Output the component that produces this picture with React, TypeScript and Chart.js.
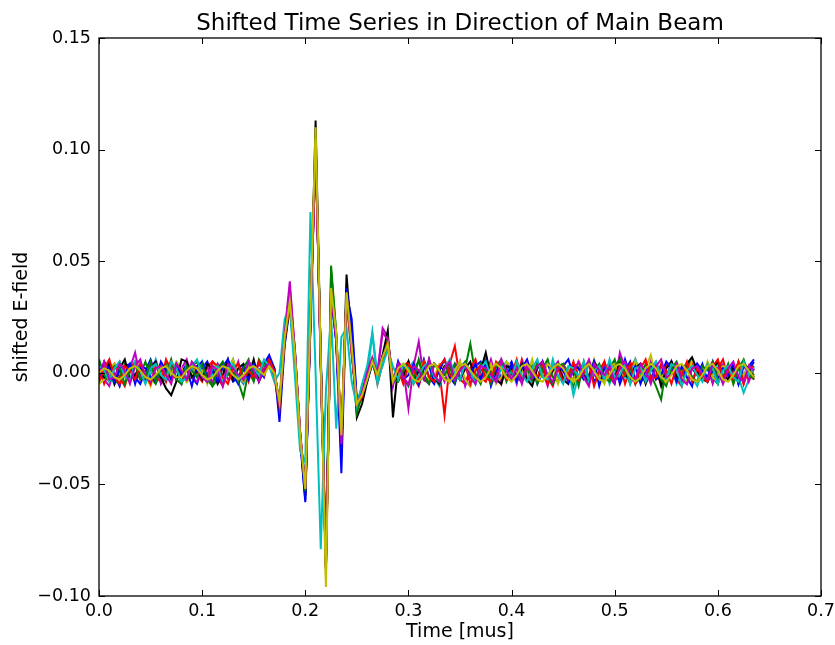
import React, { useEffect, useRef } from 'react';
import { Chart, registerables } from 'chart.js';

Chart.register(...registerables);

// Sampling of the time axis (mus) and unit of the stored values (E-field x 1e-3)
const SAMPLE_STEP = 0.005;
const VALUE_UNIT = 0.001;

const chartTitle = 'Shifted Time Series in Direction of Main Beam';
const xAxisLabel = 'Time [mus]';
const yAxisLabel = 'shifted E-field';

const xTickStep = 0.1;
const yTickStep = 0.05;
const xRange = [0, 0.7];
const yRange = [-0.1, 0.15];

// Series values (x 1e-3), one sample every 0.005 mus from 0.000 to 0.635
const blue1 = [2,-3,5,-1,-6,3,4,-2,-5,1,6,-1,-4,2,3,-3,0,4,-2,-5,2,5,-1,-3,4,1,-4,-2,3,5,-1,-3,4,
  8,2,-22,12,30,6,-30,-58,22,100,8,-84,36,14,-45,36,24,-12,-8,-4,4,0,4,12,-4,
  -3,2,5,-4,-1,6,-2,-5,3,1,-4,4,2,-3,-6,3,5,-1,-2,4,-3,1,5,-2,-4,2,3,-5,0,4,-2,-4,3,6,-1,-3,2,5,-4,-1,3,-2,4,-5,1,5,-3,-1,2,-4,4,1,-3,5,-2,-5,3,2,-1,4,-4,0,5,-3,2,-2,4,-1,3,6];
const green1 = [-4,1,3,-5,-2,4,2,-3,-1,5,-2,-5,1,4,-3,2,-1,-4,3,5,-2,0,-6,-3,2,4,-1,-4,-11,1,-4,6,2,
  6,1,-14,16,30,10,-27,-55,24,106,4,-86,48,18,-28,34,12,-16,-11,-1,5,-3,8,13,-5,
  3,-2,-6,2,5,-1,-4,4,1,-3,-2,4,-3,2,13,-1,-5,3,1,-2,4,-4,2,5,-3,-1,3,-5,2,6,-2,-4,3,1,-6,4,2,-3,5,-1,-4,2,6,-3,1,-5,3,4,-2,-1,-6,-12,3,5,-2,-4,2,6,-1,-3,4,-2,-5,3,1,-3,5,-4,2,-1];
const red1 = [3,-5,1,4,-2,-6,2,5,-3,0,4,-2,-4,6,1,-3,-5,2,4,-1,-4,3,5,-2,-6,1,4,-3,2,-4,5,-2,1,
  4,-2,-16,14,31,7,-28,-50,26,102,6,-88,36,17,-26,33,8,-13,-12,-1,6,-5,4,15,-3,
  -4,3,5,-2,-6,2,4,-3,1,-19,4,12,-3,-5,2,6,-2,-4,3,1,-5,4,2,-3,6,-1,-4,3,5,-2,-6,2,4,-1,-3,5,1,-4,3,-2,5,-3,-1,4,-5,2,6,-2,-4,3,1,-5,4,2,-3,-6,3,5,-1,-2,4,-4,2,6,-3,-1,5,-5,3,-3];
const cyan1 = [-2,4,-1,-5,3,2,-4,5,1,-3,-1,6,-2,-4,3,1,-5,4,2,-2,5,-3,-1,4,-4,2,6,-2,-5,1,3,-1,4,
  3,0,-13,22,28,5,-30,-48,30,98,8,-85,33,15,-28,32,9,-14,-6,-3,18,-1,3,12,-5,
  3,-4,2,5,-3,-1,4,-2,-6,2,5,-1,-3,4,1,-5,3,6,-2,-4,2,5,-3,-1,4,-2,-5,3,1,-3,6,-2,-4,2,-10,-1,-3,4,1,-2,3,-5,2,4,-2,-3,6,-1,-4,2,5,-3,-1,3,-5,2,4,-2,-6,1,3,-4,5,-2,-1,4,-2,-9,-3,3];
const magenta1 = [4,-3,-6,2,5,-1,2,9,-2,-2,3,5,-5,-1,4,-3,2,6,-2,-4,1,3,-5,4,2,-3,-1,5,-4,3,-2,4,1,
  5,1,-15,18,41,9,-27,-54,20,104,2,-88,35,15,-34,36,11,-15,-10,1,7,0,20,16,-6,
  5,2,-16,3,14,-3,-5,4,2,-4,3,-2,5,-6,1,4,-3,-1,6,-2,-4,3,2,-5,5,-1,-3,4,1,-6,2,5,-2,-3,4,-4,1,6,-1,-3,4,-2,-5,9,2,-4,-3,1,-4,5,-2,3,-4,5,1,-3,-5,2,4,-1,3,-5,2,4,-3,1,-2,5,-4,2];
const yellow1 = [-5,-3,2,4,1,-2,-4,3,5,-1,-6,2,4,-3,-1,5,2,-4,-2,3,1,-5,4,2,-3,-1,6,-2,-4,3,5,-3,2,
  4,0,-14,15,32,8,-28,-52,24,108,5,-93,38,16,-30,37,10,-14,-9,-2,6,-2,6,13,-4,
  -2,4,3,-5,1,5,-3,-2,4,2,-4,1,5,-3,-6,3,2,-1,4,-5,-2,5,3,-4,1,-2,6,-3,-1,4,2,-5,3,1,-4,5,-2,-3,6,-1,-5,3,4,-2,1,-4,5,-3,2,8,-3,1,-5,4,2,-2,-4,6,1,-3,5,-2,-4,3,2,-5,4,-1,3,-2];
const black1 = [1,-2,4,-5,2,6,-3,-1,3,-4,2,5,-2,-7,-10,-4,6,5,-2,1,-3,4,2,-5,-1,6,-3,2,4,-2,6,-4,1,
  6,2,-16,14,30,7,-29,-55,22,113,6,-88,37,16,-35,44,14,-20,-14,-4,5,-1,8,19,-20,
  3,-2,5,-4,1,-3,6,-2,-5,3,4,-1,-3,2,5,-4,1,9,-2,-3,-5,3,2,-1,4,-3,-6,2,5,-2,1,4,-3,-5,3,2,-1,-4,5,1,-2,3,-4,6,-1,-3,2,4,-5,1,3,-6,2,5,-2,-1,4,7,1,-3,-4,2,5,-1,-3,3,-5,4,2,-2];
const blue2 = [-3,5,2,-4,1,-1,4,-5,3,2,-2,-4,5,1,-3,4,-1,2,-6,3,5,-2,1,-4,3,6,-1,-5,2,-3,4,1,-2,
  7,1,-18,16,33,8,-29,-57,25,103,6,-83,35,14,-38,38,20,-13,-9,-3,5,-2,7,14,-5,
  5,-3,-1,4,-5,2,3,-4,1,6,-2,-5,3,2,-1,4,-3,5,-6,1,3,-2,4,-4,2,6,-1,-3,5,-2,-5,3,1,-4,4,2,-3,-1,5,-6,2,4,-2,-3,6,-1,3,-5,1,4,-3,-1,5,2,-4,3,-2,-6,4,1,-2,5,-3,2,-1,4,-5,3,1,5];
const green2 = [6,-1,-4,3,2,-5,1,4,-3,-2,5,-4,2,-1,6,-3,-5,3,1,-2,4,-3,-6,2,5,-1,3,-4,2,6,-3,1,4,
  5,0,-15,15,33,9,-27,-53,26,105,4,-87,46,17,-29,35,11,-18,-10,0,4,-2,5,15,-3,
  -4,1,3,-3,6,-2,-5,4,1,-1,3,-4,2,5,-2,-3,4,1,-5,3,6,-2,-1,4,-4,2,-3,5,1,-2,-5,3,4,-1,2,-6,5,-3,1,4,-2,-4,3,6,-1,2,-5,-2,4,1,3,-3,-6,2,5,-1,4,-2,-4,3,1,5,-3,-2,4,-5,2,6,-1,-3];
const red2 = [-4,2,6,-2,-5,3,1,-3,4,-1,-5,3,2,-4,5,1,-2,-3,4,2,-1,-4,5,3,-2,-5,2,4,-3,1,-2,5,-1,
  6,1,-15,15,31,7,-28,-51,24,101,5,-86,37,16,-28,35,9,-14,-11,-2,6,-1,5,14,-4,
  2,-5,4,1,-3,5,-2,-4,3,6,-1,-3,2,4,-5,1,3,-2,-4,5,2,-3,-1,6,-4,3,1,-2,4,-5,3,2,-4,-1,5,-3,2,4,-6,1,5,-2,-3,3,-1,4,-5,2,6,-3,-2,4,1,-5,3,-1,5,-4,2,-2,-4,3,6,-2,1,-3,4,-5,2,3];
const cyan2 = [3,1,-4,2,5,-2,-3,4,1,-5,2,4,-1,-3,5,2,-4,-2,3,6,-1,-4,2,3,-5,1,4,-2,-3,5,2,-1,6,
  3,-4,0,24,30,-2,-35,-40,72,0,-79,-8,26,-25,16,20,-4,-15,-5,3,18,-5,4,10,3,
  -3,4,2,-5,-1,3,5,-2,-4,2,6,-1,-3,4,1,-5,2,5,-2,-4,3,1,-3,5,-1,-4,2,6,-2,-3,4,-1,-5,3,2,-2,5,-4,1,3,-3,6,-2,-1,4,-5,2,3,-4,1,5,-2,-3,4,2,-6,1,3,-1,-4,4,2,-5,1,3,-2,-4,5,-1,2];
const magenta2 = [-1,5,-3,-2,4,1,-5,3,6,-2,-4,2,3,-1,-5,4,1,-3,5,2,-2,-4,3,1,-6,4,2,-1,-3,5,1,-4,2,
  4,0,-14,17,38,10,-26,-52,23,103,3,-87,36,15,-32,36,10,-14,-9,0,6,0,18,15,-5,
  4,-2,-5,3,1,-3,6,-1,-4,2,5,-3,1,4,-2,-5,3,2,-1,-4,6,1,-3,2,-5,4,-2,3,5,-1,-4,2,3,-3,1,5,-2,-6,4,1,-1,3,-4,2,5,-2,-3,4,1,-5,3,6,-2,-1,4,-3,-5,2,3,-1,-3,4,1,-5,2,5,-2,-4,3,1];
const yellow2 = [0,2,1,-2,-3,-1,2,3,1,-2,-3,-1,2,3,0,-2,-2,1,3,2,-1,-3,-2,1,3,2,-1,-3,-1,2,3,1,-1,
  3,0,-13,16,32,8,-28,-52,26,110,6,-96,38,18,-28,36,12,-14,-10,-3,5,-1,7,13,-4,
  2,4,1,-3,-4,-1,3,4,1,-3,-4,-1,3,4,1,-2,-4,-2,2,4,2,-2,-4,-1,3,4,1,-3,-4,-1,2,4,2,-2,-4,-2,2,4,1,-3,-4,-1,3,4,2,-2,-4,-2,2,4,2,-2,-4,-1,3,4,1,-3,-4,-1,3,4,1,-3,-4,-1,3,4,1,-2];

const seriesList = [blue1, green1, red1, cyan1, magenta1, yellow1, black1, blue2, green2, red2, cyan2, magenta2, yellow2];
const seriesColors = ['#0000ff', '#008000', '#ff0000', '#00bfbf', '#bf00bf', '#bfbf00', '#000000',
  '#0000ff', '#008000', '#ff0000', '#00bfbf', '#bf00bf', '#bfbf00'];

const FONT = '"DejaVu Sans", "Liberation Sans", sans-serif';

const fmt = (v: number, d: number) => {
  const s = Math.abs(v) < 1e-9 ? (0).toFixed(d) : v.toFixed(d);
  return s.replace('-', '\u2212');
};

const framePlugin = {
  id: 'mplFrame',
  afterDraw(chart: any) {
    const { ctx, chartArea: a, scales } = chart;
    ctx.save();
    ctx.strokeStyle = '#000';
    ctx.lineWidth = 1;
    const L = 6;
    ctx.beginPath();
    scales.x.ticks.forEach((t: any) => {
      const px = Math.round(scales.x.getPixelForValue(t.value)) + 0.5;
      ctx.moveTo(px, a.bottom); ctx.lineTo(px, a.bottom - L);
      ctx.moveTo(px, a.top); ctx.lineTo(px, a.top + L);
    });
    scales.y.ticks.forEach((t: any) => {
      const py = Math.round(scales.y.getPixelForValue(t.value)) + 0.5;
      ctx.moveTo(a.left, py); ctx.lineTo(a.left + L, py);
      ctx.moveTo(a.right, py); ctx.lineTo(a.right - L, py);
    });
    ctx.stroke();
    ctx.lineWidth = 1.3;
    ctx.strokeRect(a.left, a.top, a.right - a.left, a.bottom - a.top);
    ctx.fillStyle = '#000';
    ctx.font = `23px ${FONT}`;
    ctx.textAlign = 'center';
    ctx.textBaseline = 'alphabetic';
    ctx.fillText(chartTitle, (a.left + a.right) / 2, 30);
    ctx.restore();
  },
};

export default function App() {
  const canvasRef = useRef<HTMLCanvasElement | null>(null);

  useEffect(() => {
    if (!canvasRef.current) return;
    const n = seriesList.length;
    const datasets = seriesList.map((vals, si) => ({
      label: `series ${si + 1}`,
      data: vals.map((v, i) => ({ x: i * SAMPLE_STEP, y: v * VALUE_UNIT })),
      borderColor: seriesColors[si],
      backgroundColor: seriesColors[si],
      borderWidth: 2,
      pointRadius: 0,
      tension: 0,
      fill: false,
      order: n - si,
    }));

    const chart = new Chart(canvasRef.current, {
      type: 'line',
      data: { datasets },
      plugins: [framePlugin],
      options: {
        animation: false,
        responsive: false,
        events: [],
        layout: { padding: { top: 38, right: 14, left: 0, bottom: 0 } },
        plugins: {
          legend: { display: false },
          tooltip: { enabled: false },
          title: { display: false },
        },
        scales: {
          x: {
            type: 'linear',
            min: xRange[0],
            max: xRange[1],
            border: { display: false },
            grid: { display: false, drawTicks: false },
            afterFit: (s: any) => { s.height = 49; s.paddingLeft = 0; s.paddingRight = 0; },
            ticks: {
              stepSize: xTickStep,
              autoSkip: false,
              maxRotation: 0,
              padding: 5,
              color: '#000',
              font: { family: FONT, size: 17.5 },
              callback: (v: any) => fmt(Number(v), 1),
            },
            title: {
              display: true,
              text: xAxisLabel,
              color: '#000',
              font: { family: FONT, size: 19 },
              padding: { top: 0, bottom: 2 },
            },
          },
          y: {
            type: 'linear',
            min: yRange[0],
            max: yRange[1],
            border: { display: false },
            grid: { display: false, drawTicks: false },
            afterFit: (s: any) => { s.width = 99; s.paddingTop = 0; s.paddingBottom = 0; },
            ticks: {
              stepSize: yTickStep,
              autoSkip: false,
              padding: 8,
              color: '#000',
              font: { family: FONT, size: 17.5 },
              callback: (v: any) => fmt(Number(v), 2),
            },
            title: {
              display: true,
              text: yAxisLabel,
              color: '#000',
              font: { family: FONT, size: 19 },
              padding: { top: 11, bottom: 0 },
            },
          },
        },
      },
    });
    return () => chart.destroy();
  }, []);

  return (
    <div style={{ position: 'absolute', left: 0, top: 0, width: 835, height: 645, background: '#fff' }}>
      <canvas ref={canvasRef} width={835} height={645} style={{ display: 'block' }} />
    </div>
  );
}
